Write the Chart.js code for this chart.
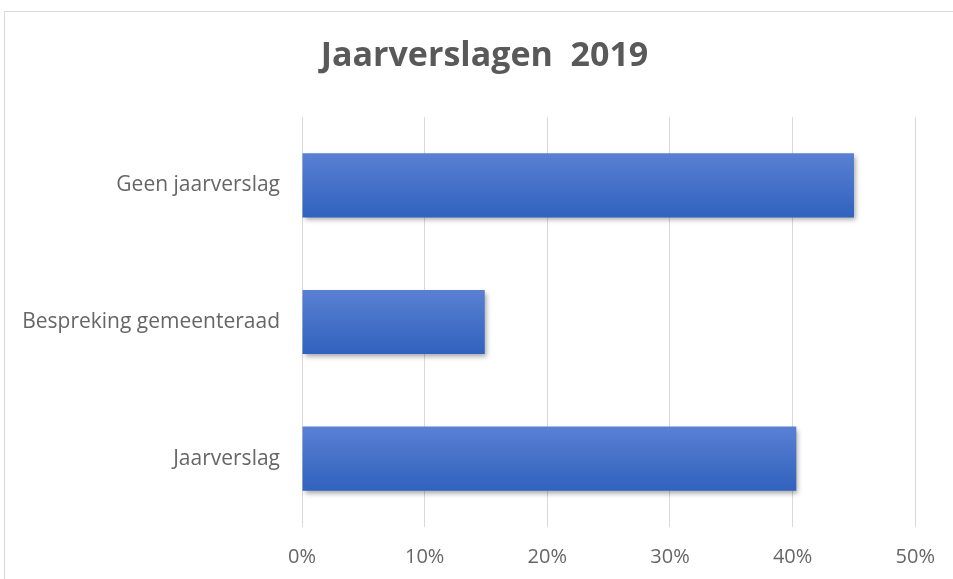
<!DOCTYPE html>
<html>
<head>
<meta charset="utf-8">
<script src="https://cdn.jsdelivr.net/npm/chart.js@4.4.1/dist/chart.umd.min.js"></script>
<style>
  html, body { margin: 0; padding: 0; background: #ffffff; }
  #wrap { position: relative; width: 953px; height: 579px; overflow: hidden; }
  #frame { position: absolute; left: 4px; top: 11px; width: 1000px; height: 700px; border: 1px solid #d9d9d9; box-sizing: border-box; pointer-events: none; }
  canvas { position: absolute; left: 0; top: 0; }
</style>
</head>
<body>
<div id="wrap">
  <div id="frame"></div>
  <canvas id="c" width="953" height="579"></canvas>
</div>
<script>
const titleText = "Jaarverslagen  2019";
const categories = ["Geen jaarverslag", "Bespreking gemeenteraad", "Jaarverslag"];
const values = [45.0, 14.9, 40.3];
const xTicks = [0, 10, 20, 30, 40, 50];

const shadowPlugin = {
  id: 'barShadow',
  beforeDatasetsDraw(chart) {
    const ctx = chart.ctx;
    ctx.save();
    ctx.shadowColor = 'rgba(0,0,0,0.35)';
    ctx.shadowBlur = 5;
    ctx.shadowOffsetX = 2;
    ctx.shadowOffsetY = 3;
  },
  afterDatasetsDraw(chart) {
    chart.ctx.restore();
  }
};

// centre the title over the frame region like the reference
const titleShift = {
  id: 'titleShift',
  afterLayout(chart) {
    if (chart.titleBlock) {
      chart.titleBlock.left = 53;
      chart.titleBlock.right = 916;
    }
  }
};

function barGradient(context) {
  const chart = context.chart;
  const ys = chart.scales && chart.scales.y;
  if (!ys || !chart.chartArea || context.dataIndex === undefined) return '#4472c4';
  const center = ys.getPixelForValue(context.dataIndex);
  const half = (ys.height / categories.length) * 0.47 / 2;
  if (!isFinite(center) || !isFinite(half)) return '#4472c4';
  const g = chart.ctx.createLinearGradient(0, center - half, 0, center + half);
  g.addColorStop(0, '#5a80d3');
  g.addColorStop(0.5, '#4571c8');
  g.addColorStop(1, '#3062bf');
  return g;
}

new Chart(document.getElementById('c'), {
  type: 'bar',
  data: {
    labels: categories,
    datasets: [{
      data: values,
      backgroundColor: barGradient,
      borderWidth: 0,
      barPercentage: 0.47,
      categoryPercentage: 1.0
    }]
  },
  plugins: [shadowPlugin, titleShift],
  options: {
    indexAxis: 'y',
    responsive: false,
    animation: false,
    layout: { padding: { top: 36, right: 37, bottom: 0, left: 0 } },
    plugins: {
      legend: { display: false },
      tooltip: { enabled: false },
      title: {
        display: true,
        text: titleText,
        color: '#595959',
        font: { family: 'Open Sans', size: 34, weight: 'bold' },
        padding: { top: 0, bottom: 40.2 }
      }
    },
    scales: {
      x: {
        min: 0,
        max: 50,
        afterBuildTicks(scale) { scale.ticks = xTicks.map(v => ({ value: v })); },
        afterFit(scale) { scale.height = 52; },
        ticks: {
          color: '#666666',
          font: { family: 'Open Sans', size: 20 },
          padding: 18,
          maxRotation: 0,
          callback: v => v + '%'
        },
        grid: { color: '#d9d9d9', drawTicks: false },
        border: { display: false }
      },
      y: {
        afterFit(scale) { scale.width = 302; },
        ticks: {
          color: '#666666',
          font: { family: 'Open Sans', size: 21 },
          padding: 22
        },
        grid: { display: false, drawTicks: false },
        border: { display: false }
      }
    }
  }
});
</script>
</body>
</html>
